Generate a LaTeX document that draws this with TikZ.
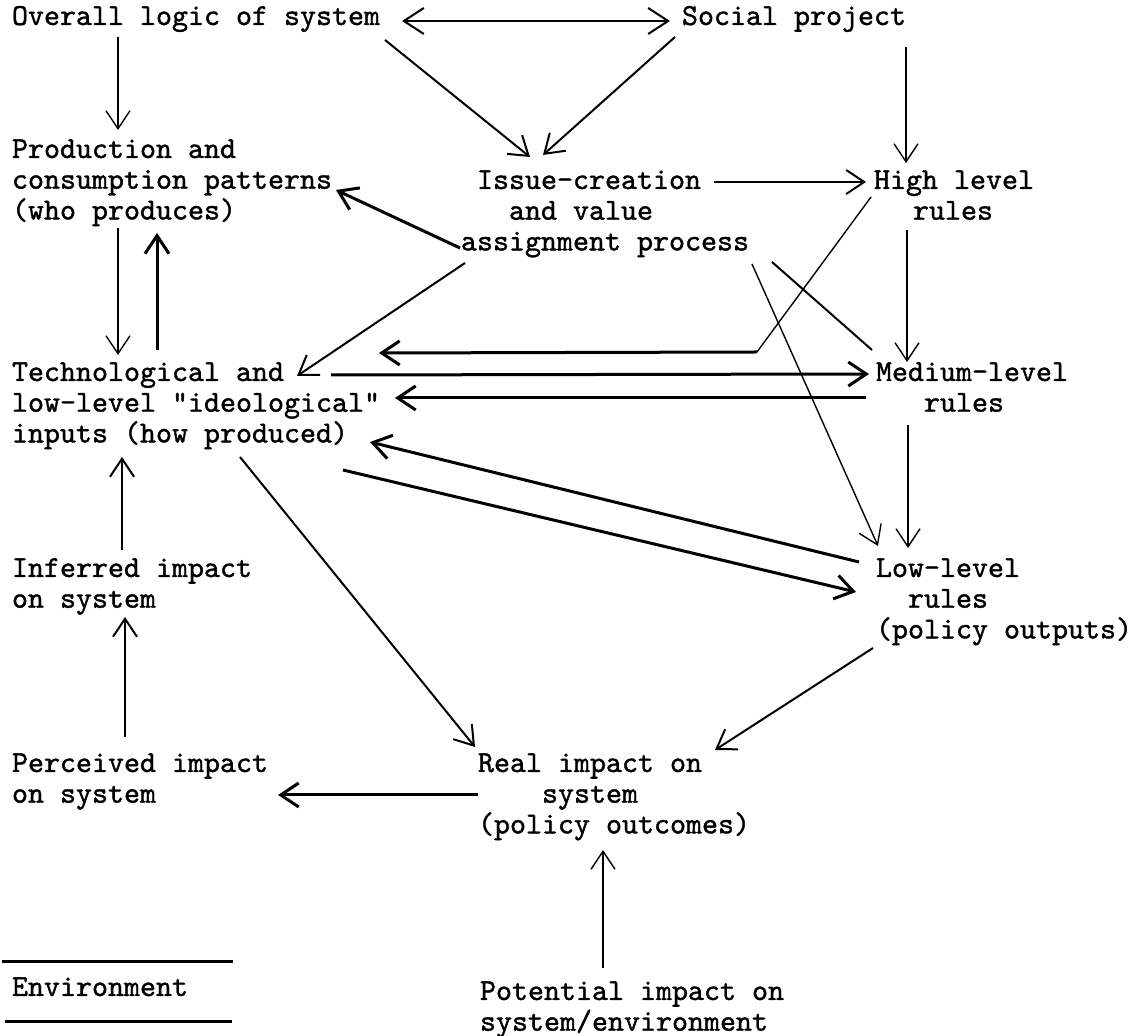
\documentclass[tikz,border=0pt]{standalone}
\usepackage{fontspec}
\newfontfamily\typew{lmmono10-regular.otf}[FakeBold=1.2]
\usetikzlibrary{arrows.meta}
\tikzset{
  lbl/.style={anchor=base west, inner sep=0pt, outer sep=0pt,
    font=\typew\fontsize{15.24pt}{15.35pt}\selectfont},
  tip/.style={-{Straight Barb[length=9pt,width=12pt]}},
  wthin/.style={line width=0.7pt},
  wmed/.style={line width=1pt},
  wbold/.style={line width=1.5pt},
}
\newcommand{\ml}[1]{\begin{tabular}[t]{@{}l@{}}#1\end{tabular}}
\begin{document}
\begin{tikzpicture}[x=0.5pt,y=-0.5pt]
\useasboundingbox[fill=white] (0,0) rectangle (1136,1036);
% nodes
\node[lbl] (ovl)   at (12,25)   {Overall logic of system};
\node[lbl] (soc)   at (682,25)  {Social project};
\node[lbl] (prod)  at (12,158)  {\ml{Production and\\consumption patterns\\(who produces)}};
\node[lbl] (issue) at (461,189) {\ml{~Issue-creation\\~~~and value\\assignment process}};
\node[lbl] (high)  at (874,189) {\ml{High level\\\hspace*{19.5pt}rules}};
\node[lbl] (tech)  at (12,381)  {\ml{Technological and\\low-level "ideological"\\inputs (how produced)}};
\node[lbl] (med)   at (876,381) {\ml{Medium-level\\~~~rules}};
\node[lbl] (inf)   at (12,577)  {\ml{Inferred impact\\on system}};
\node[lbl] (low)   at (876,577) {\ml{Low-level\\~~rules\\(policy outputs)}};
\node[lbl] (perc)  at (12,772)  {\ml{Perceived impact\\on system}};
\node[lbl] (real)  at (478,772) {\ml{Real impact on\\~~~~system\\(policy outcomes)}};
\node[lbl] (env)   at (12,996)  {Environment};
\node[lbl] (pot)   at (480,1000) {\ml{Potential impact on\\system/environment}};
% connectors
\draw[wmed,{Straight Barb[length=10pt,width=13pt]}-{Straight Barb[length=10pt,width=13pt]}]
  ([shift={(390,-4)}]ovl.base west) -- ([shift={(-12,-4)}]soc.base west);
\draw[wthin,tip] ([shift={(106,12)}]ovl.base west) -- ([shift={(106,-28)}]prod.base west);
\draw[wmed,tip] ([shift={(373,15)}]ovl.base west) -- ([shift={(69,-32)}]issue.base west);
\draw[wmed,tip] ([shift={(-7,12)}]soc.base west) -- ([shift={(82,-34)}]issue.base west);
\draw[wthin,tip] ([shift={(224,22)}]soc.base west) -- ([shift={(32,-26)}]high.base west);
\draw[wmed,tip] ([shift={(253,-7)}]issue.base west) -- ([shift={(-8,-7)}]high.base west);
\draw[wbold,tip] ([shift={(-1,59)}]issue.base west) -- ([shift={(324,32)}]prod.base west);
\draw[wmed,tip] ([shift={(4,74)}]issue.base west) -- ([shift={(285,-5)}]tech.base west);
\draw[wthin,tip] ([shift={(106,70)}]prod.base west) -- ([shift={(106,-26)}]tech.base west);
\draw[wbold,tip] ([shift={(145,-31)}]tech.base west) -- ([shift={(145,75)}]prod.base west);
\coordinate (hb) at ([shift={(-117,163)}]high.base west);
\draw[wthin] ([shift={(-3,8)}]high.base west) -- (hb);
\draw[wbold,tip] (hb) -- ([shift={(367,-28)}]tech.base west);
\draw[wbold,tip] ([shift={(319,-6)}]tech.base west) -- ([shift={(-7,-7)}]med.base west);
\draw[wbold,tip] ([shift={(-10,17)}]med.base west) -- ([shift={(383,17)}]tech.base west);
\draw[wmed] ([shift={(311,73)}]issue.base west) -- ([shift={(-4,-31)}]med.base west);
\draw[wthin,tip] ([shift={(291,75)}]issue.base west) -- ([shift={(2,-31)}]low.base west);
\draw[wthin,tip] ([shift={(33,41)}]high.base west) -- ([shift={(31,-19)}]med.base west);
\draw[wthin,tip] ([shift={(32,44)}]med.base west) -- ([shift={(32,-29)}]low.base west);
\draw[wbold,tip] ([shift={(-17,-15)}]low.base west) -- ([shift={(358,61)}]tech.base west);
\draw[wbold,tip] ([shift={(331,89)}]tech.base west) -- ([shift={(-20,15)}]low.base west);
\draw[wmed,tip] ([shift={(228,76)}]tech.base west) -- ([shift={(-3,-25)}]real.base west);
\draw[wmed,tip] ([shift={(-3,71)}]low.base west) -- ([shift={(237,-22)}]real.base west);
\draw[wbold,tip] ([shift={(0,23)}]real.base west) -- ([shift={(266,23)}]perc.base west);
\draw[wmed,tip] ([shift={(113,-35)}]perc.base west) -- ([shift={(113,40)}]inf.base west);
\draw[wmed,tip] ([shift={(110,-27)}]inf.base west) -- ([shift={(110,76)}]tech.base west);
\draw[wthin,tip] ([shift={(123,-32)}]pot.base west) -- ([shift={(125,78)}]real.base west);
\draw[wbold] ([shift={(-10,-34)}]env.base west) -- ([shift={(221,-34)}]env.base west);
\draw[wbold] ([shift={(-7,26)}]env.base west) -- ([shift={(220,26)}]env.base west);
\end{tikzpicture}
\end{document}
